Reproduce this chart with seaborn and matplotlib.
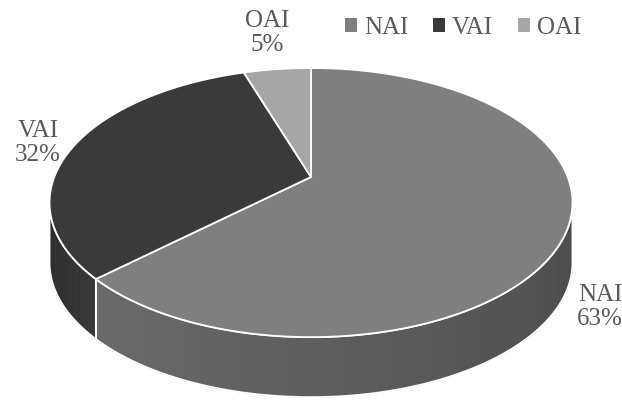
import numpy as np
import seaborn as sns
import matplotlib.pyplot as plt
from matplotlib.patches import Polygon, Patch
from matplotlib.colors import to_rgb

# data
labels = ["NAI", "VAI", "OAI"]
shares = [63, 32, 5]
top_colors = ["#7f7f7f", "#3a3a3a", "#a6a6a6"]
side_colors = [("#6a6a6a", "#4a4a4a"), ("#2c2c2c", "#363636"), ("#8a8a8a", "#8a8a8a")]
label_pos = {"NAI": (600, 307), "VAI": (38, 143), "OAI": (267, 33)}

sns.set_theme(style="white")
plt.rcParams["font.family"] = ["Liberation Serif", "DejaVu Serif"]

fig = plt.figure(figsize=(6.22, 4.0), dpi=100)
ax = fig.add_axes([0, 0, 1, 1])
ax.set_xlim(0, 622)
ax.set_ylim(400, 0)
ax.axis("off")

# perspective disc geometry (pixels)
cx, cy = 311, 177       # projected centre
A, S, k = 256.7, 129.7, 0.19
depth = 60


def arc(t0, t1, dy=0, n=200):
    t = np.radians(np.linspace(t0, t1, n))
    w = 1 + k * np.sin(t)
    return np.column_stack([cx + A * np.cos(t) / w, cy - S * np.sin(t) / w + dy])


# slice boundaries, clockwise from 12 o'clock
frac = np.array(shares) / sum(shares)
bounds = 90 - 360 * np.concatenate([[0], np.cumsum(frac)])

# visible front of the side wall
tan_deg = np.degrees(np.arcsin(k))
front = (-180 + tan_deg, -tan_deg)

for i in range(len(labels)):
    hi, lo = bounds[i], bounds[i + 1]
    s, e = max(lo, front[0]), min(hi, front[1])
    if s >= e:
        continue
    c0, c1 = np.array(to_rgb(side_colors[i][0])), np.array(to_rgb(side_colors[i][1]))
    steps = 60
    edges = np.linspace(s, e, steps + 1)
    for j in range(steps):
        col = c0 + (c1 - c0) * j / (steps - 1)
        top = arc(edges[j], edges[j + 1], n=10)
        bot = arc(edges[j + 1], edges[j], dy=depth, n=10)
        ax.add_patch(Polygon(np.vstack([top, bot]), closed=True, facecolor=col,
                             edgecolor=col, lw=0.6, zorder=1))
    top = arc(s, e)
    bot = arc(e, s, dy=depth)
    ax.add_patch(Polygon(np.vstack([top, bot]), closed=True, facecolor="none",
                         edgecolor="white", lw=1.3, zorder=2))

# top faces
for i in range(len(labels)):
    hi, lo = bounds[i], bounds[i + 1]
    pts = np.vstack([[cx, cy], arc(hi, lo)])
    ax.add_patch(Polygon(pts, closed=True, facecolor=top_colors[i],
                         edgecolor="white", lw=1.3, zorder=3))

# data labels
for lab, sh in zip(labels, shares):
    x, y = label_pos[lab]
    ax.text(x, y, f"{lab}\n{sh}%", ha="center", va="center", fontsize=18,
            color="#595959", linespacing=1.15, zorder=5)

handles = [Patch(facecolor=c, edgecolor="none") for c in top_colors]
fig.legend(handles, labels, loc="center", bbox_to_anchor=(0.745, 0.93), ncol=3,
           frameon=False, fontsize=18, handlelength=0.45, handleheight=0.45,
           handletextpad=0.3, columnspacing=1.0, labelcolor="#595959")

fig.savefig("out.png", dpi=100)
